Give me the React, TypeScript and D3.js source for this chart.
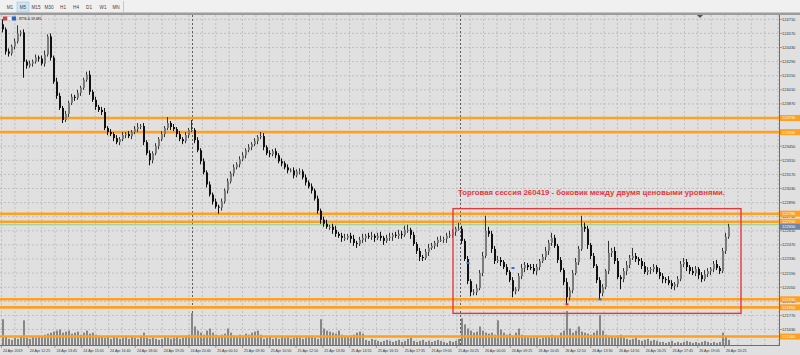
import React from 'react';
import * as d3 from 'd3';

const W = 800;
const H = 355;

const symbolTitle = 'RTS-6.19,M5';
const tfButtons = ['M1', 'M5', 'M15', 'M30', 'H1', 'H4', 'D1', 'W1', 'MN'];

const firstOpen = 124660;
const closes = [
  124610,124390,124370,124440,124490,124570,124580,124290,124250,124270,
  124290,124330,124320,124270,124360,124540,124330,124090,123950,123830,
  123710,123770,123880,123940,123930,123980,124030,124110,124160,123990,
  123910,123840,123810,123790,123630,123590,123570,123530,123490,123520,
  123560,123570,123550,123590,123620,123640,123650,123490,123380,123310,
  123380,123450,123520,123570,123630,123680,123640,123620,123570,123520,
  123500,123560,123610,123610,123510,123410,123300,123190,123070,122970,
  122900,122850,122840,122900,123010,123100,123180,123240,123270,123320,
  123360,123410,123440,123470,123500,123540,123550,123440,123380,123370,
  123400,123360,123300,123280,123240,123210,123210,123160,123200,123200,
  123140,123090,123050,123010,122930,122810,122720,122680,122650,122650,
  122620,122580,122560,122540,122540,122560,122530,122490,122480,122520,
  122540,122560,122550,122560,122540,122560,122540,122510,122540,122550,
  122570,122560,122580,122570,122620,122620,122570,122480,122410,122350,
  122340,122400,122440,122460,122490,122520,122520,122530,122560,122570,
  122600,122630,122630,122510,122330,122110,122000,122000,122040,122190,
  122360,122610,122580,122430,122310,122320,122300,122250,122200,122120,
  122010,122030,122160,122240,122270,122250,122240,122210,122250,122310,
  122350,122410,122490,122540,122460,122320,122220,122100,121950,122020,
  122190,122300,122430,122650,122630,122470,122360,122260,122120,121990,
  122050,122210,122390,122410,122310,122150,122130,122210,122270,122340,
  122360,122330,122310,122260,122200,122220,122230,122250,122200,122160,
  122130,122120,122090,122060,122080,122130,122280,122300,122250,122210,
  122190,122230,122170,122130,122180,122210,122230,122280,122240,122210,
  122410,122550,122650,
];

const wickUp = [
  50,20,30,20,30,80,20,30,20,30,
  20,30,20,30,40,20,30,20,40,30,
  20,30,20,30,20,30,20,20,30,40,
  20,30,20,30,40,20,30,20,30,20,
  30,20,30,20,30,40,20,30,20,30,
  20,30,20,30,20,60,20,30,20,30,
  20,30,20,100,20,30,20,30,20,30,
  20,30,20,30,20,30,20,30,20,30,
  30,20,30,20,30,20,40,30,20,30,
  20,30,20,30,20,30,20,30,20,30,
  20,30,20,30,20,30,20,30,40,20,
  30,40,20,30,40,20,30,40,20,30,
  40,20,30,40,20,30,40,20,30,40,
  20,30,40,30,40,50,20,30,20,30,
  20,30,40,30,20,30,40,20,30,40,
  30,20,60,30,20,30,20,30,40,30,
  40,150,40,30,30,40,30,20,30,20,
  30,20,30,40,30,20,30,40,30,20,
  30,40,30,50,30,20,30,20,40,30,
  30,40,30,110,40,30,20,30,20,30,
  30,20,120,30,40,30,20,30,40,30,
  80,30,20,30,40,30,20,30,20,40,
  30,20,40,30,20,30,30,40,30,20,
  40,30,20,30,40,30,20,30,40,20,
  30,40,30,
];

const wickDn = [
  30,30,30,20,30,20,30,160,30,20,
  30,20,30,20,30,20,30,20,30,20,
  30,20,30,20,30,20,30,20,20,30,
  20,30,20,30,20,30,20,30,20,30,
  20,30,20,30,20,30,20,30,20,50,
  30,20,30,20,30,20,30,20,30,20,
  30,20,30,20,30,20,30,20,30,20,
  30,20,60,30,20,30,20,30,20,30,
  20,30,20,30,20,30,20,30,20,30,
  20,30,20,30,20,30,20,30,20,30,
  20,30,20,30,20,30,40,30,20,30,
  40,30,20,40,30,20,40,30,40,20,
  30,40,20,30,40,20,30,40,20,30,
  40,20,30,40,20,30,40,20,30,40,
  30,20,40,20,30,40,20,30,40,20,
  30,40,20,30,20,30,40,30,30,20,
  30,20,30,40,30,20,40,20,30,20,
  60,30,20,30,40,30,20,30,40,30,
  20,30,40,30,20,30,20,30,70,30,
  30,20,30,20,30,40,30,20,30,60,
  30,20,30,40,30,20,100,30,40,30,
  20,30,40,30,20,30,40,30,20,30,
  40,30,20,30,40,30,20,30,40,30,
  20,30,40,30,20,30,40,30,20,30,
  20,30,20,
];

const volumes = [
  1250,400,300,250,350,300,400,
  1200,350,300,400,350,450,400,500,550,
  600,650,700,750,600,650,700,550,600,650,500,600,700,550,600,500,450,
  400,350,450,300,400,350,300,350,450,300,400,350,300,450,600,
  350,
  300,350,300,250,300,400,350,300,350,400,300,350,450,500,
  1550,
  900,700,
  600,500,700,800,600,500,450,500,550,800,600,450,400,500,450,550,500,600,650,700,
  500,300,350,400,300,350,300,450,350,400,300,350,400,350,300,350,400,450,350,300,1250,
  800,700,650,600,550,700,500,450,400,450,500,600,650,550,
  250,200,300,250,200,150,200,250,200,150,200,250,150,200,300,350,200,150,200,250,150,200,150,200,250,200,150,100,200,150,200,
  300,1300,1000,800,700,
  600,650,900,700,600,550,600,500,1200,750,600,500,550,450,600,800,500,450,400,350,
  350,400,300,350,400,450,500,400,350,600,700,1650,800,
  600,700,900,650,600,550,500,600,700,1450,700,500,450,
  400,350,450,500,350,300,250,300,350,250,200,250,300,200,250,200,150,
  150,100,150,200,100,150,100,150,200,150,100,150,100,150,200,150,100,150,100,150,
  600,400,250,
];

const priceTicks = d3.range(0, 23).map((k) => 124710 - 140 * k);
const levelPrices = [123730, 123590, 122780, 122700, 121930, 121850, 121560];
const askPrice = 122670;
const lastPrice = 122650;
const separatorIdx = [63, 152.5];

const markerIdx = [155, 170, 188, 199];
const markerPrice = [122290, 122240, 121880, 121930];
const markerColor = ['#2a6fdb', '#2a6fdb', '#d83030', '#2a6fdb'];

const timeLabels = [
  '24 Apr 2019', '24 Apr 12:25', '24 Apr 13:45', '24 Apr 15:05', '24 Apr 16:40',
  '24 Apr 18:00', '24 Apr 19:20', '24 Apr 20:40', '25 Apr 00:10', '25 Apr 09:30',
  '25 Apr 10:50', '25 Apr 12:10', '25 Apr 13:30', '25 Apr 14:55', '25 Apr 16:15',
  '25 Apr 17:35', '25 Apr 19:05', '25 Apr 20:25', '26 Apr 00:05', '26 Apr 09:25',
  '26 Apr 10:45', '26 Apr 12:10', '26 Apr 13:30', '26 Apr 14:50', '26 Apr 16:25',
  '26 Apr 17:45', '26 Apr 19:05', '26 Apr 20:25',
];

const annotation = 'Торговая сессия 260419 - боковик между двумя ценовыми уровнями.';
const boxStartPrice = 122830;
const boxEndPrice = 121790;
const boxStartIdx = 150;
const boxEndIdx = 246;

const FONT = 'Liberation Sans, Arial, sans-serif';

export default function App() {
  const plotRight = 779;
  const plotTop = 15;
  const plotBottom = 345;
  const x = d3.scaleLinear().domain([0, closes.length - 1]).range([3, 729]);
  const y = d3.scaleLinear().domain([124710, 121630]).range([19.3, 329.5]);
  const vy = d3.scaleLinear().domain([0, 1700]).range([plotBottom, plotBottom - 35]);

  const candles = closes.map((c, i) => {
    const o = i === 0 ? firstOpen : closes[i - 1];
    return { i, o, c, h: Math.max(o, c) + wickUp[i], l: Math.min(o, c) - wickDn[i] };
  });

  const gridXs = d3.range(0, 60).map((k) => 1.5 + 13.39 * k).filter((v) => v < plotRight);
  const orange = '#ffa020';
  const tfX = [10, 23, 36, 49, 63, 76, 89, 103, 116];

  const grayTicks = priceTicks.filter((p) => !levelPrices.some((l) => Math.abs(l - p) < 20));

  return (
    <svg
      width={W}
      height={H}
      viewBox={`0 0 ${W} ${H}`}
      style={{ position: 'fixed', left: 0, top: 0, display: 'block' }}
      fontFamily={FONT}
    >
      {/* toolbar */}
      <rect x={0} y={0} width={W} height={13} fill="#f0f0f0" />
      <rect x={17} y={2} width={12} height={10} fill="#cce4f7" stroke="#99c9ef" strokeWidth={0.6} />
      {tfButtons.map((t, k) => (
        <text key={t} x={tfX[k]} y={9.2} fontSize={4.6} textAnchor="middle" fill="#444">
          {t}
        </text>
      ))}
      <line x1={123.5} x2={123.5} y1={1} y2={12} stroke="#c8c8c8" />
      <rect x={0} y={12.5} width={W} height={2.5} fill="#9c9c9c" />

      {/* chart background */}
      <rect x={0} y={plotTop} width={W} height={H - plotTop} fill="#e0e0e0" />

      {/* grid */}
      {gridXs.map((gx, k) => (
        <line key={'gx' + k} x1={gx} x2={gx} y1={plotTop} y2={plotBottom} stroke="#b2b2b2" strokeWidth={0.7} strokeDasharray="2,2" />
      ))}
      {priceTicks.map((p) => (
        <line key={'gy' + p} x1={0} x2={plotRight} y1={y(p)} y2={y(p)} stroke="#b2b2b2" strokeWidth={0.7} strokeDasharray="2,2" />
      ))}

      {/* day separators */}
      {separatorIdx.map((s) => (
        <line key={'sep' + s} x1={Math.round(x(s)) + 0.5} x2={Math.round(x(s)) + 0.5} y1={plotTop} y2={plotBottom} stroke="#3c3c3c" strokeWidth={0.8} strokeDasharray="2,2" />
      ))}

      {/* volumes */}
      {volumes.map((v, i) => (
        <rect key={'v' + i} x={x(i) - 1} y={vy(v)} width={2} height={plotBottom - vy(v)} fill="#868686" />
      ))}

      {/* levels */}
      {levelPrices.map((p) => (
        <line key={'lv' + p} x1={0} x2={plotRight} y1={y(p)} y2={y(p)} stroke={orange} strokeWidth={2.6} />
      ))}
      <line x1={0} x2={plotRight} y1={y(askPrice)} y2={y(askPrice)} stroke="#8fcf8f" strokeWidth={1} />

      {/* candles */}
      {candles.map((d) => {
        const cx = x(d.i);
        const bull = d.c >= d.o;
        const top = y(Math.max(d.o, d.c));
        const bot = y(Math.min(d.o, d.c));
        return (
          <g key={'c' + d.i}>
            <line x1={cx - 0.5} x2={cx - 0.5} y1={y(d.h)} y2={y(d.l)} stroke={bull ? '#333' : '#111'} strokeWidth={1} />
            <rect x={cx - 1} y={top} width={2} height={Math.max(1, bot - top)} fill={bull ? '#7c7c7c' : '#111'} />
          </g>
        );
      })}

      {/* trade markers */}
      {markerIdx.map((m, k) => (
        <rect key={'m' + k} x={x(m) - 1.5} y={y(markerPrice[k]) - 1} width={3} height={2} fill={markerColor[k]} />
      ))}

      {/* annotation box */}
      <rect
        x={x(boxStartIdx)}
        y={y(boxStartPrice)}
        width={x(boxEndIdx) - x(boxStartIdx)}
        height={y(boxEndPrice) - y(boxStartPrice)}
        fill="none"
        stroke="#e33a40"
        strokeWidth={1.4}
      />
      <text x={458} y={194.5} fontSize={7.8} fontWeight="bold" fill="#e8363c" textLength={267} lengthAdjust="spacingAndGlyphs">
        {annotation}
      </text>

      {/* title */}
      <rect x={3} y={16.5} width={4} height={4} fill="#d84040" />
      <rect x={7.5} y={16.5} width={4} height={4} fill="#f4f4f4" stroke="#999" strokeWidth={0.3} />
      <rect x={12} y={16.5} width={4} height={4} fill="#3060d0" />
      <text x={19} y={20.2} fontSize={3.8} fill="#222">
        {symbolTitle}
      </text>
      <path d="M697,15 L703,15 L700,18 Z" fill="#555" />

      {/* axes */}
      <line x1={plotRight + 0.5} x2={plotRight + 0.5} y1={plotTop} y2={plotBottom + 1} stroke="#6e6e6e" strokeWidth={1} />
      <line x1={0} x2={plotRight + 1} y1={plotBottom + 0.5} y2={plotBottom + 0.5} stroke="#6e6e6e" strokeWidth={1} />
      {grayTicks.map((p) => (
        <g key={'pt' + p}>
          <line x1={plotRight + 1} x2={plotRight + 3} y1={y(p)} y2={y(p)} stroke="#6e6e6e" strokeWidth={0.6} />
          <text x={782} y={y(p) + 1.4} fontSize={4} fill="#333">
            {p}
          </text>
        </g>
      ))}
      {levelPrices.map((p) => (
        <g key={'lb' + p}>
          <rect x={780} y={y(p) - 3} width={20} height={6} fill={orange} />
          <text x={782} y={y(p) + 1.4} fontSize={4} fill="#fff8e8">
            {p}
          </text>
        </g>
      ))}
      <rect x={780} y={y(lastPrice) - 3} width={20} height={6} fill="#6f84a6" />
      <text x={782} y={y(lastPrice) + 1.4} fontSize={4} fill="#ffffff">
        {lastPrice}
      </text>

      {timeLabels.map((t, k) => {
        const tx = gridXs[2 * k];
        return (
          <g key={'tl' + k}>
            <line x1={tx} x2={tx} y1={plotBottom} y2={plotBottom + 3} stroke="#6e6e6e" strokeWidth={0.6} />
            <text x={tx + 1.5} y={351.5} fontSize={3.6} fill="#333">
              {t}
            </text>
          </g>
        );
      })}
    </svg>
  );
}
